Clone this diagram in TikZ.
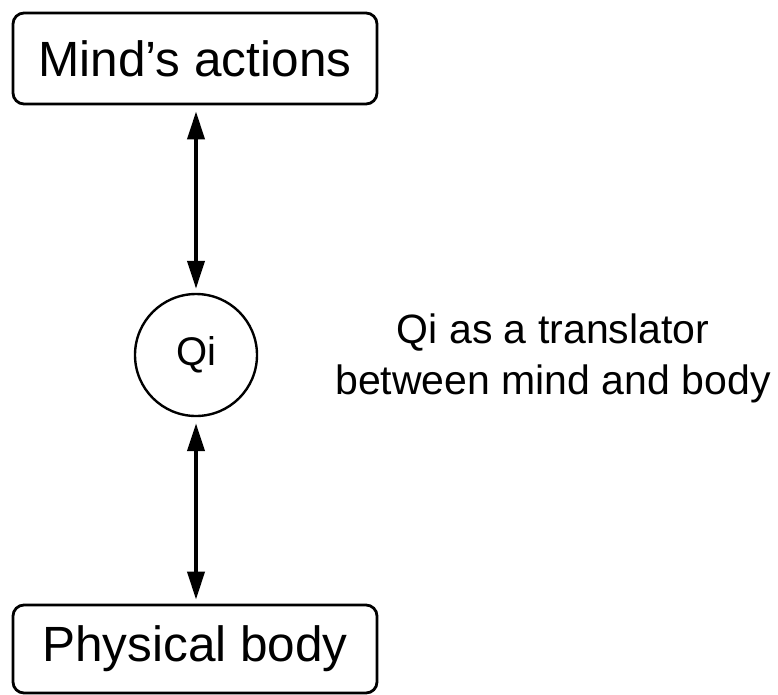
\documentclass[tikz,border=0pt]{standalone}
\usepackage{fontspec}
\setmainfont{Liberation Sans}
\usetikzlibrary{arrows.meta}
\begin{document}
\begin{tikzpicture}[x=1pt,y=-1pt,
  labelbox/.style={draw, line width=2.8pt, rounded corners=11pt,
    minimum width=364pt, inner sep=0pt, font=\fontsize{49.5}{56}\selectfont},
  qicircle/.style={draw, circle, line width=2.4pt, minimum size=122pt,
    inner sep=0pt, font=\fontsize{40}{46}\selectfont},
  note/.style={align=center, font=\fontsize{41}{51}\selectfont},
  link/.style={line width=4pt, {Triangle[length=28pt,width=17pt]}-{Triangle[length=28pt,width=17pt]}, shorten <=6pt, shorten >=4pt}]
  \useasboundingbox (0,0) rectangle (778,694);
  \node[labelbox, minimum height=91pt] (mind) at (195,58.5) {Mind’s actions};
  \node[labelbox, minimum height=88pt] (body) at (195,649) {Physical body};
  \node[qicircle] (qi) at (196,355) {Qi};
  \node[note] (caption) at (553,358) {Qi as a translator\\between mind and body};
  \draw[link] (mind.south -| qi.north) -- (qi.north);
  \draw[link] (qi.south) -- (body.north -| qi.south);
\end{tikzpicture}
\end{document}
